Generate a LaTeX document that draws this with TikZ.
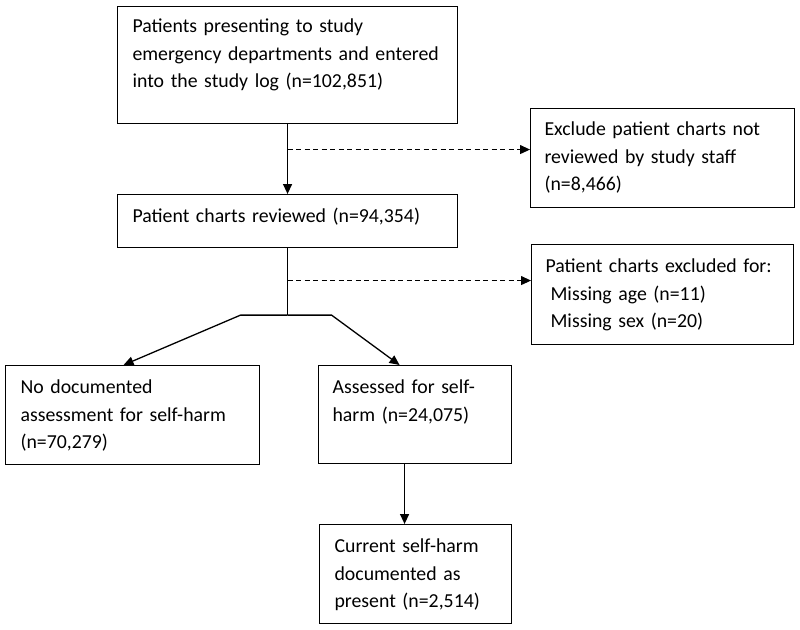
\documentclass[tikz,border=0pt]{standalone}
\usepackage{fontspec}
\setmainfont{Carlito}
\usetikzlibrary{arrows.meta}
\begin{document}
\begin{tikzpicture}[x=1pt,y=1pt,
  box/.style={draw=black, line width=1.1pt, anchor=north west, inner xsep=15pt, inner ysep=0pt,
    align=left, font=\fontsize{19.8}{27.5}\selectfont},
  arr/.style={line width=1.3pt, -{Triangle[length=10pt,width=9pt]}},
  darr/.style={line width=1pt, dash pattern=on 5pt off 3.5pt, -{Triangle[length=10pt,width=9pt]}}]
\useasboundingbox (0,0) rectangle (800,-629);
\node[box, text width=310pt, text height=26pt, text depth=91pt] (log) at (117,-6)
  {Patients presenting to study\\emergency departments and entered\\into the study log (n=102,851)};
\node[box, text width=310pt, text height=28pt, text depth=25pt] (reviewed) at (117,-194)
  {Patient charts reviewed (n=94,354)};
\node[box, inner xsep=14pt, text width=236pt, text height=27pt, text depth=72pt] (notreviewed) at (530,-108)
  {Exclude patient charts not\\reviewed by study staff\\(n=8,466)};
\node[box, inner xsep=14pt, text width=234pt, text height=28pt, text depth=72pt] (excluded) at (531,-244)
  {Patient charts excluded for:\\\hspace*{5pt}Missing age (n=11)\\\hspace*{5pt}Missing sex (n=20)};
\node[box, text width=224pt, text height=28pt, text depth=71pt] (none) at (5,-365)
  {No documented\\assessment for self-harm\\(n=70,279)};
\node[box, inner xsep=14pt, text width=165pt, text height=28pt, text depth=70pt] (assessed) at (318,-365)
  {Assessed for self-\\harm (n=24,075)};
\node[box, text width=162pt, text height=28pt, text depth=71pt] (current) at (319,-524)
  {Current self-harm\\documented as\\present (n=2,514)};
\coordinate (split) at ([yshift=-67pt]reviewed.south);
\draw[arr] (log.south) -- (reviewed.north);
\draw[darr] ([yshift=8.5pt]notreviewed.west -| log.south) -- ([yshift=8.5pt]notreviewed.west);
\draw[darr] ([yshift=14pt]excluded.west -| reviewed.south) -- ([yshift=14pt]excluded.west);
\draw[line width=1.3pt] (reviewed.south) -- (split);
\draw[arr] (split) -- ++(-47,0) -- ([xshift=-9pt]none.north);
\draw[arr] (split) -- ++(44,0) -- ([xshift=-15.5pt]assessed.north);
\draw[arr] ([xshift=-10.5pt]assessed.south) -- ([xshift=-10.5pt]assessed.south |- current.north);
\end{tikzpicture}
\end{document}
